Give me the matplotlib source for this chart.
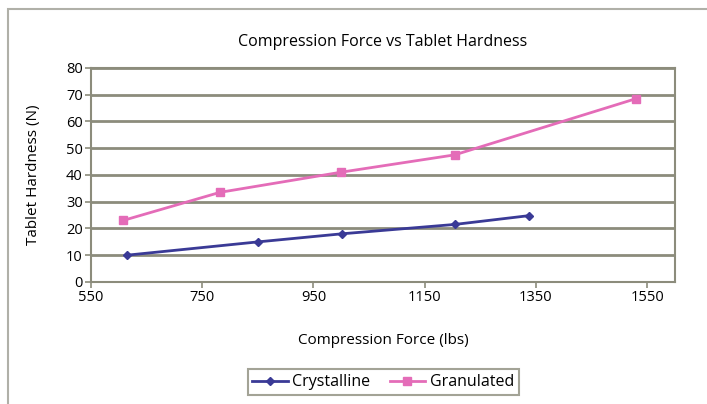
import matplotlib
matplotlib.use("Agg")
import matplotlib.pyplot as plt
from matplotlib.patches import Rectangle

# data
cryst_force = [614, 851, 1001, 1204, 1338]
cryst_hard = [10, 15, 18, 21.5, 24.8]
gran_force = [608, 782, 999, 1204, 1530]
gran_hard = [23, 33.5, 41, 47.5, 68.5]

x_ticks = [550, 750, 950, 1150, 1350, 1550]
y_ticks = [0, 10, 20, 30, 40, 50, 60, 70, 80]

plt.rcParams['font.family'] = ['Open Sans', 'DejaVu Sans']

grid_col = "#8c8c7c"

fig = plt.figure(figsize=(7.07, 4.04), dpi=100)
fig.patches.append(Rectangle((8 / 707, -0.01), 1.0, 1 - 9 / 404 + 0.01,
                             transform=fig.transFigure, fill=False,
                             edgecolor="#b0b0a8", linewidth=1.5))

ax = fig.add_axes([0.1287, 0.302, 0.826, 0.530])

ax.plot(cryst_force, cryst_hard, color="#3a3a96", linewidth=2,
        marker="D", markersize=4.5, label="Crystalline")
ax.plot(gran_force, gran_hard, color="#e46cb8", linewidth=2,
        marker="s", markersize=5.5, label="Granulated")

ax.set_xlim(550, 1600)
ax.set_ylim(0, 80)
ax.set_xticks(x_ticks)
ax.set_yticks(y_ticks)
ax.tick_params(labelsize=10.5, length=4, color=grid_col, width=1.2, pad=2)
ax.yaxis.grid(True, color=grid_col, linewidth=2)
ax.set_axisbelow(True)
for s in ax.spines.values():
    s.set_color(grid_col)
    s.set_linewidth(1.5)

ax.set_title("Compression Force vs Tablet Hardness", fontsize=11.5, pad=16)
ax.set_xlabel("Compression Force (lbs)", fontsize=11, labelpad=20)
ax.set_ylabel("Tablet Hardness (N)", fontsize=11, labelpad=18)

leg = fig.legend(loc="center", bbox_to_anchor=(0.542, 0.054), ncol=2,
                 fontsize=11.5, frameon=True, fancybox=False,
                 handlelength=2.2, handletextpad=0.3, columnspacing=1.2,
                 borderpad=0.3)
leg.get_frame().set_edgecolor("#8c8c7c")
leg.get_frame().set_linewidth(1.5)

fig.savefig("out.png", dpi=100)
